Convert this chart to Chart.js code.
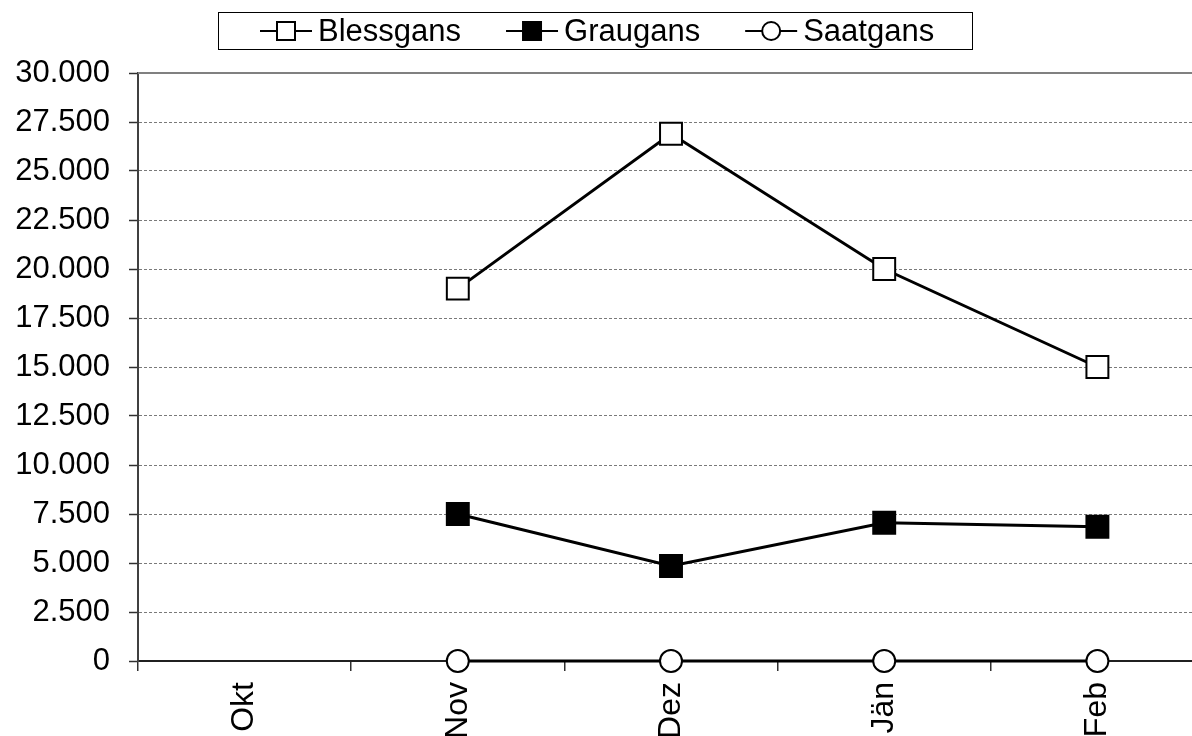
<!DOCTYPE html>
<html>
<head>
<meta charset="utf-8">
<script src="https://cdn.jsdelivr.net/npm/chart.js@4.4.0/dist/chart.umd.min.js"></script>
<style>
  html, body { margin: 0; padding: 0; background: #ffffff; overflow: hidden; }
  #wrap { position: absolute; left: 0; top: 0; width: 1204px; height: 780px; }
</style>
</head>
<body>
<div id="wrap"><canvas id="c" width="1204" height="780"></canvas></div>
<script>
// ---- data ----
const months = ['Okt', 'Nov', 'Dez', 'Jän', 'Feb'];
const blessgans = [null, 19000, 26900, 20000, 15000];
const graugans = [null, 7500, 4850, 7050, 6850];
const saatgans = [null, 0, 0, 0, 0];
const seriesNames = ['Blessgans', 'Graugans', 'Saatgans'];
const yTickLabels = ['0', '2.500', '5.000', '7.500', '10.000', '12.500', '15.000',
  '17.500', '20.000', '22.500', '25.000', '27.500', '30.000'];

const FONT = "'Liberation Sans', Arial, sans-serif";

// custom legend with line-through markers and a box
const boxLegend = {
  id: 'boxLegend',
  afterDraw(chart) {
    const ctx = chart.ctx;
    ctx.save();
    ctx.strokeStyle = '#000';
    ctx.lineWidth = 1;
    ctx.strokeRect(218.5, 12.5, 754, 37);
    ctx.font = '31px ' + FONT;
    ctx.textBaseline = 'middle';
    ctx.textAlign = 'left';
    let x = 260;
    const y = 31;
    chart.data.datasets.forEach(ds => {
      ctx.strokeStyle = '#000';
      ctx.lineWidth = 2;
      ctx.beginPath();
      ctx.moveTo(x, y);
      ctx.lineTo(x + 52, y);
      ctx.stroke();
      const cx = x + 26;
      ctx.fillStyle = ds.pointBackgroundColor;
      ctx.beginPath();
      if (ds.pointStyle === 'circle') {
        ctx.arc(cx, y, 9, 0, Math.PI * 2);
      } else {
        ctx.rect(cx - 9, y - 9, 18, 18);
      }
      ctx.fill();
      ctx.stroke();
      ctx.fillStyle = '#000';
      ctx.fillText(ds.label, x + 58, y + 1);
      x += 58 + ctx.measureText(ds.label).width + 45;
    });
    ctx.restore();
  }
};

// top border of plot area
const topBorder = {
  id: 'topBorder',
  beforeDatasetsDraw(chart) {
    const { ctx, chartArea } = chart;
    ctx.save();
    ctx.strokeStyle = '#808080';
    ctx.lineWidth = 2;
    ctx.beginPath();
    ctx.moveTo(chartArea.left, chartArea.top);
    ctx.lineTo(chartArea.right, chartArea.top);
    ctx.stroke();
    ctx.restore();
  }
};

const common = {
  borderColor: '#000000',
  borderWidth: 3,
  pointBorderColor: '#000000',
  pointBorderWidth: 2,
  pointHoverRadius: 0,
  clip: false,
  tension: 0
};

new Chart(document.getElementById('c'), {
  type: 'line',
  data: {
    labels: months,
    datasets: [
      Object.assign({}, common, {
        label: seriesNames[0], data: blessgans,
        pointStyle: 'rect', pointRadius: 15.5, pointBackgroundColor: '#ffffff'
      }),
      Object.assign({}, common, {
        label: seriesNames[1], data: graugans,
        pointStyle: 'rect', pointRadius: 15.5, pointBackgroundColor: '#000000'
      }),
      Object.assign({}, common, {
        label: seriesNames[2], data: saatgans,
        pointStyle: 'circle', pointRadius: 11, pointBackgroundColor: '#ffffff'
      })
    ]
  },
  options: {
    responsive: false,
    devicePixelRatio: 1,
    animation: false,
    events: [],
    layout: { autoPadding: false, padding: { top: 73, left: 0, right: 0, bottom: 0 } },
    plugins: {
      legend: { display: false },
      tooltip: { enabled: false },
      title: { display: false }
    },
    scales: {
      x: {
        type: 'category',
        offset: true,
        grid: {
          offset: true,
          drawOnChartArea: false,
          drawTicks: true,
          tickLength: 10,
          color: '#303030',
          lineWidth: 1.5
        },
        border: { display: true, color: '#202020', width: 2 },
        ticks: {
          color: '#000',
          font: { family: FONT, size: 32 },
          minRotation: 90,
          maxRotation: 90,
          padding: 11,
          autoSkip: false
        },
        afterFit(scale) {
          scale.height = 119;
          scale.paddingLeft = 0;
          scale.paddingRight = 0;
        }
      },
      y: {
        min: 0,
        max: 30000,
        ticks: {
          stepSize: 2500,
          color: '#000',
          font: { family: FONT, size: 31 },
          padding: 19,
          callback: (v, i) => yTickLabels[i]
        },
        grid: {
          color: '#7a7a7a',
          lineWidth: 1,
          drawTicks: true,
          tickLength: 9,
          tickColor: '#303030',
          tickWidth: 1.5
        },
        border: { display: true, color: '#404040', width: 2, dash: [3, 2] },
        afterFit(scale) { scale.width = 138; }
      }
    }
  },
  plugins: [topBorder, boxLegend]
});
</script>
</body>
</html>
